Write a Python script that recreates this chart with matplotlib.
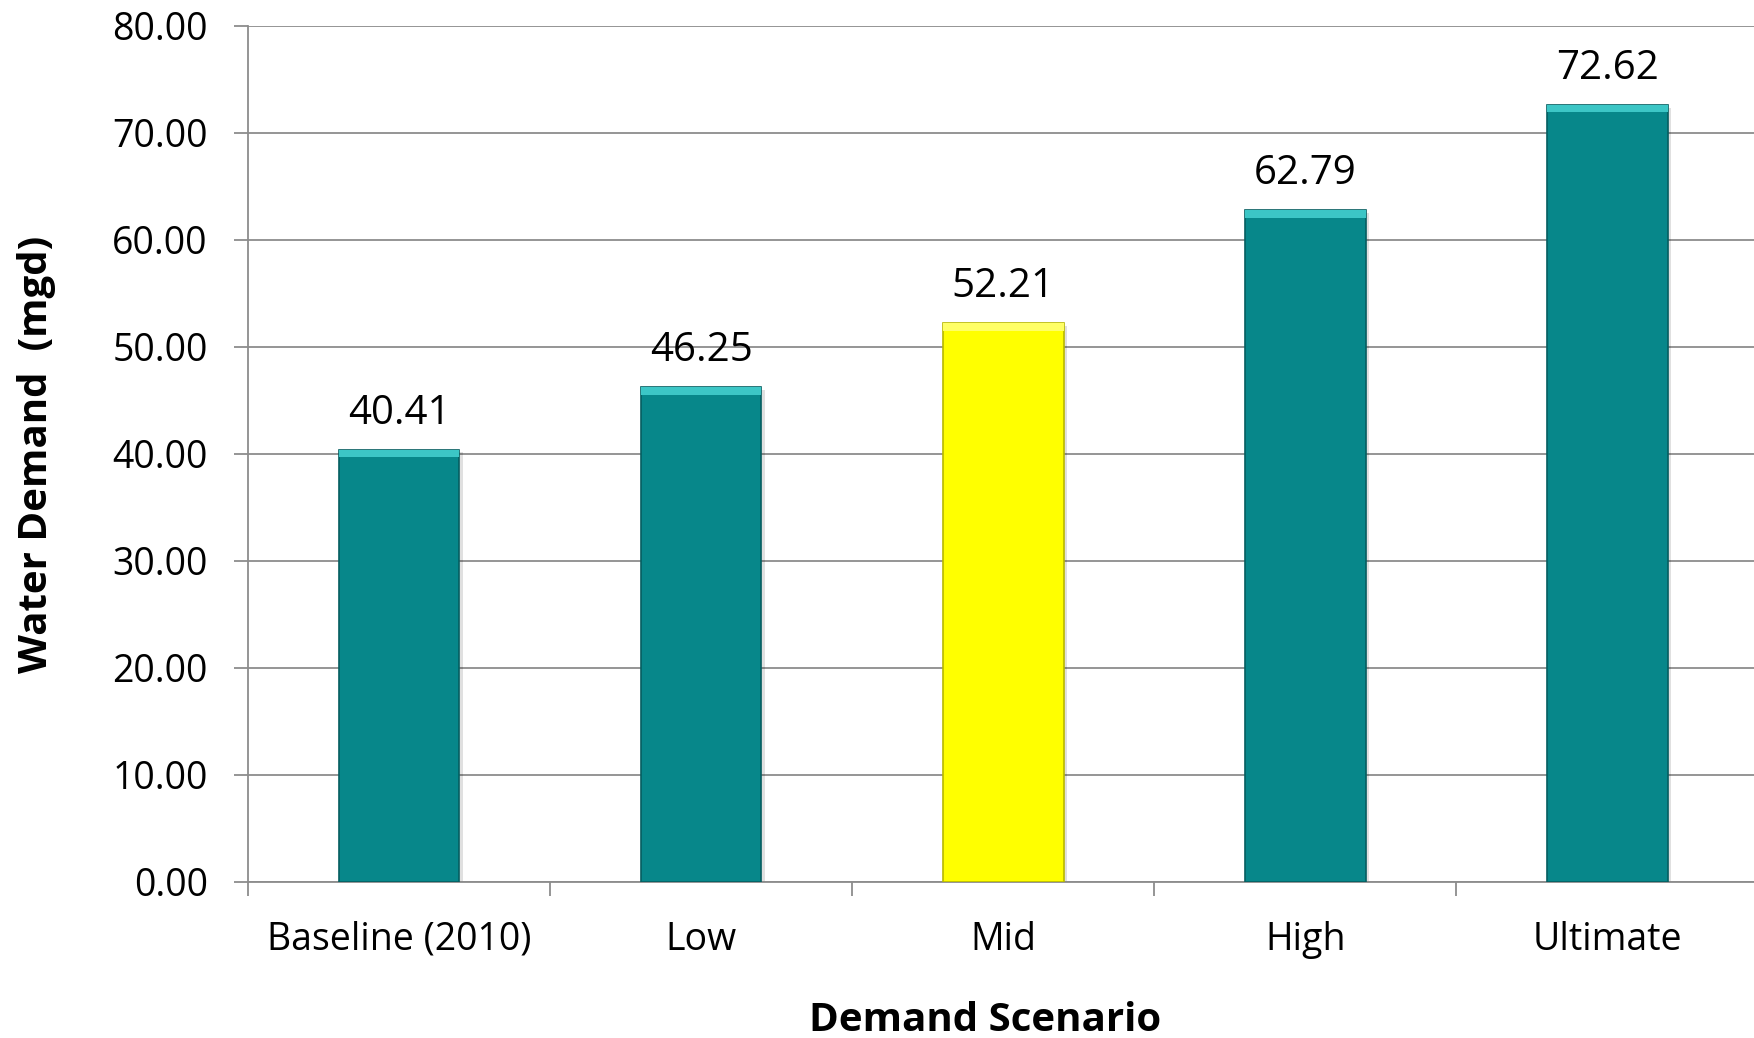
import matplotlib
matplotlib.use("Agg")
import matplotlib.pyplot as plt
import numpy as np

categories = ["Baseline (2010)", "Low", "Mid", "High", "Ultimate"]
demand = [40.41, 46.25, 52.21, 62.79, 72.62]
bar_colors = ["#07878A", "#07878A", "#FFFF00", "#07878A", "#07878A"]
top_colors = ["#3CC6C6", "#3CC6C6", "#FFFF66", "#3CC6C6", "#3CC6C6"]
edge_colors = ["#055E60", "#055E60", "#B8B800", "#055E60", "#055E60"]
yticks = [0, 10, 20, 30, 40, 50, 60, 70, 80]

plt.rcParams["font.family"] = ["Open Sans", "DejaVu Sans"]

fig = plt.figure(figsize=(17.54, 10.38), dpi=100)
ax = fig.add_axes([0.1414, 0.1503, 0.8610, 0.8247])

x = np.arange(len(categories))
width = 0.40

# soft drop shadow
ax.bar(x + 0.012, demand, width, bottom=-0.25, color="#000000", alpha=0.12, zorder=2)
# main bars
ax.bar(x, demand, width, color=bar_colors, edgecolor=edge_colors, linewidth=1.2, zorder=3)
# bevelled top highlight
bevel = 0.7
ax.bar(x, [bevel] * len(demand), width, bottom=[d - bevel for d in demand],
       color=top_colors, linewidth=0, zorder=4)

for xi, d in zip(x, demand):
    ax.text(xi, d + 1.5, f"{d:.2f}", ha="center", va="bottom", fontsize=29, color="#000000")

ax.set_ylim(0, 80)
ax.set_xlim(-0.5, len(categories) - 0.5)
ax.set_yticks(yticks)
ax.set_yticklabels([f"{t:.2f}" for t in yticks], fontsize=27)
ax.yaxis.grid(True, color="#8C8C8C", linewidth=1.3)
ax.set_axisbelow(True)

ax.set_xticks(x)
ax.set_xticklabels(categories, fontsize=27)
ax.tick_params(axis="x", length=0, pad=28)
ax.set_xticks(np.arange(len(categories) + 1) - 0.5, minor=True)
ax.tick_params(axis="x", which="minor", length=10, width=1.3, color="#8C8C8C")
ax.tick_params(axis="y", length=10, width=1.3, color="#8C8C8C", pad=19)

for side in ["top", "right"]:
    ax.spines[side].set_visible(False)
for side in ["left", "bottom"]:
    ax.spines[side].set_color("#8C8C8C")
    ax.spines[side].set_linewidth(1.3)

fig.text(0.5615, 0.0173, "Demand Scenario", ha="center", va="center",
         fontsize=29, fontweight="bold")
fig.text(0.021, 0.5626, "Water Demand  (mgd)", ha="center", va="center",
         rotation=90, fontsize=29, fontweight="bold")

fig.savefig("out.png", dpi=100)
